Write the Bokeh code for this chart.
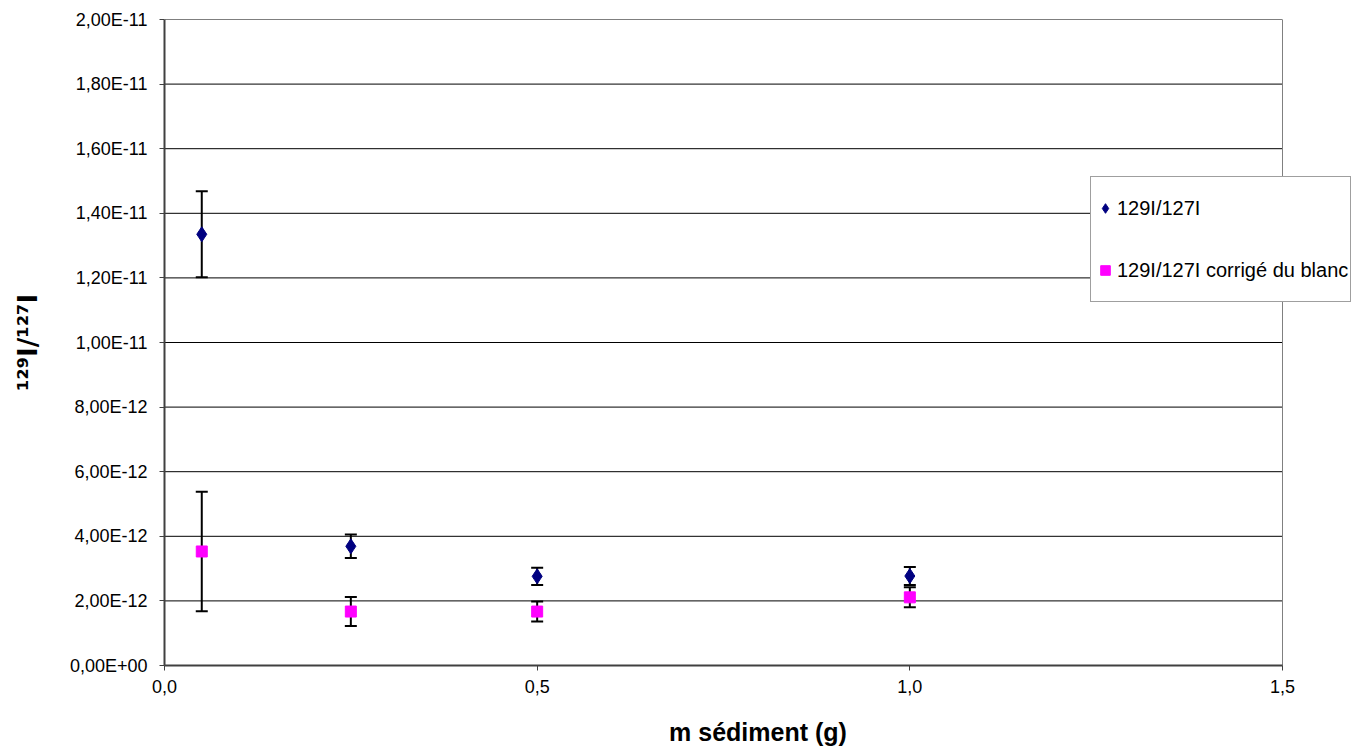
from bokeh.plotting import figure
from bokeh.models import (Range1d, FixedTicker, CustomJSTickFormatter, Whisker, TeeHead,
                          ColumnDataSource, Legend, LegendItem, Span)
from bokeh.embed import file_html
from bokeh.resources import INLINE

# ---- data ----
mass = [0.05, 0.25, 0.5, 1.0]
ratio = [1.335e-11, 3.69e-12, 2.76e-12, 2.77e-12]
ratio_err = [1.33e-12, 0.365e-12, 0.27e-12, 0.28e-12]
ratio_corr = [3.53e-12, 1.67e-12, 1.67e-12, 2.11e-12]
ratio_corr_err = [1.85e-12, 0.45e-12, 0.31e-12, 0.31e-12]

series_names = ["129I/127I", "129I/127I corrigé du blanc"]
x_ticks = [0.0, 0.5, 1.0, 1.5]
y_ticks = [0.0, 2e-12, 4e-12, 6e-12, 8e-12, 1e-11, 1.2e-11, 1.4e-11, 1.6e-11, 1.8e-11, 2e-11]
x_title = "m sédiment (g)"
y_title = "¹²⁹I/¹²⁷I"

FONT = "Liberation Sans"

# layout (pixels)
W, H = 1353, 752
LEFT, RIGHT_PAD, TOP, BOTTOM = 164, 2, 19, 87
AXIS_PX = 1118  # pixel length of the 0..1.5 axis
frame_w = W - LEFT - RIGHT_PAD
x_end = x_ticks[-1] * frame_w / AXIS_PX  # frame extends right so the legend can overhang

p = figure(width=W, height=H, output_backend="svg", toolbar_location=None,
           x_range=Range1d(x_ticks[0], x_end), y_range=Range1d(y_ticks[0], y_ticks[-1]),
           min_border_left=LEFT, min_border_right=RIGHT_PAD,
           min_border_top=TOP, min_border_bottom=BOTTOM)
p.background_fill_color = "white"
p.border_fill_color = "white"
p.outline_line_color = None

p.xgrid.visible = False
p.ygrid.visible = False
# horizontal grid lines limited to the 0..1.5 plot area
p.segment(x0=[x_ticks[0]] * len(y_ticks), x1=[x_ticks[-1]] * len(y_ticks),
          y0=y_ticks, y1=y_ticks, line_color="black", line_width=1, level="underlay")
p.add_layout(Span(location=x_ticks[-1], dimension="height", line_color="#808080",
                  line_width=1, level="underlay"))

p.xaxis.ticker = FixedTicker(ticks=x_ticks)
p.yaxis.ticker = FixedTicker(ticks=y_ticks)
p.xaxis.bounds = (x_ticks[0], x_ticks[-1])
p.xaxis.formatter = CustomJSTickFormatter(code="return tick.toFixed(1).replace('.', ',');")
p.yaxis.formatter = CustomJSTickFormatter(code="""
const s = tick.toExponential(2);
const parts = s.split('e');
const n = parseInt(parts[1]);
const a = Math.abs(n);
return parts[0].replace('.', ',') + 'E' + (n < 0 ? '-' : '+') + (a < 10 ? '0' + a : '' + a);
""")

for ax in (p.xaxis, p.yaxis):
    ax.axis_line_color = "#404040"
    ax.axis_line_width = 2
    ax.major_tick_line_color = "#404040"
    ax.major_tick_out = 5
    ax.major_tick_in = 0
    ax.minor_tick_line_color = None
    ax.major_label_text_font = FONT
    ax.major_label_text_font_size = "18px"
    ax.major_label_text_color = "black"
    ax.axis_label_text_font = FONT
    ax.axis_label_text_font_style = "bold"
    ax.axis_label_text_color = "black"

p.xaxis.axis_label = x_title
p.xaxis.axis_label_text_font_size = "25px"
p.xaxis.major_label_standoff = 9
p.xaxis.axis_label_standoff = 22

p.yaxis.axis_label = y_title
p.yaxis.axis_label_text_font = "DejaVu Sans"
p.yaxis.axis_label_text_font_size = "26px"
p.yaxis.major_label_standoff = 12
p.yaxis.axis_label_standoff = 24

src1 = ColumnDataSource(dict(x=mass, y=ratio,
                             lo=[v - e for v, e in zip(ratio, ratio_err)],
                             hi=[v + e for v, e in zip(ratio, ratio_err)]))
src2 = ColumnDataSource(dict(x=mass, y=ratio_corr,
                             lo=[v - e for v, e in zip(ratio_corr, ratio_corr_err)],
                             hi=[v + e for v, e in zip(ratio_corr, ratio_corr_err)]))

for src in (src1, src2):
    w = Whisker(source=src, base="x", lower="lo", upper="hi", dimension="height",
                line_color="black", line_width=2,
                upper_head=TeeHead(size=12, line_color="black", line_width=2),
                lower_head=TeeHead(size=12, line_color="black", line_width=2))
    p.add_layout(w)

r1 = p.scatter("x", "y", source=src1, marker="diamond", size=15,
               fill_color="#000080", line_color="#000080")
r2 = p.scatter("x", "y", source=src2, marker="square", size=11,
               fill_color="#FF00FF", line_color="#FF00FF")

legend = Legend(items=[LegendItem(label=series_names[0], renderers=[r1]),
                       LegendItem(label=series_names[1], renderers=[r2])],
                location=(926, 363), orientation="vertical")
legend.label_text_font = FONT
legend.label_text_font_size = "20px"
legend.label_text_color = "black"
legend.glyph_width = 24
legend.glyph_height = 58
legend.label_height = 58
legend.label_standoff = 0
legend.spacing = 4
legend.padding = 2
legend.margin = 0
legend.border_line_color = "#404040"
legend.border_line_width = 1
legend.background_fill_color = "white"
legend.background_fill_alpha = 1
p.add_layout(legend, "center")

open("out.html", "w").write(file_html(p, INLINE))
